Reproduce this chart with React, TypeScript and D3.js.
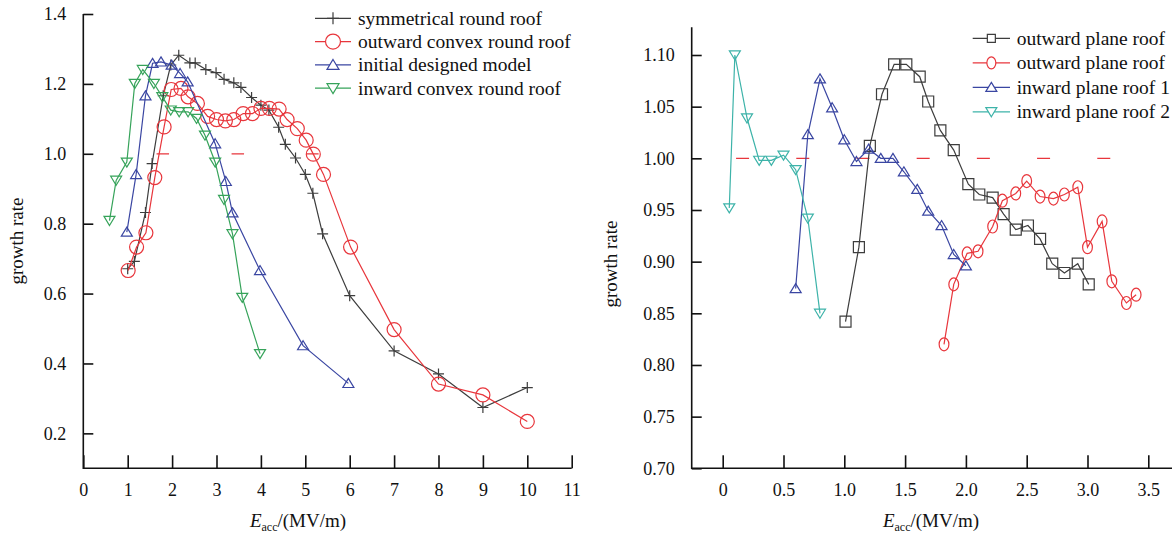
import { useEffect, useRef } from 'react';
import * as d3 from 'd3';

// left panel: round roofs
const symX = [1.0, 1.15, 1.4, 1.55, 1.8, 1.97, 2.15, 2.4, 2.52, 2.76, 2.99, 3.17, 3.39, 3.55, 3.79, 4.0, 4.18, 4.4, 4.55, 4.78, 5.0, 5.17, 5.39, 6, 7, 8, 9, 10];
const symY = [0.671, 0.692, 0.832, 0.972, 1.166, 1.254, 1.282, 1.26, 1.26, 1.241, 1.232, 1.213, 1.203, 1.19, 1.161, 1.139, 1.125, 1.076, 1.027, 0.988, 0.941, 0.887, 0.771, 0.594, 0.436, 0.37, 0.274, 0.331];
const outConvX = [1.01, 1.2, 1.41, 1.61, 1.82, 1.98, 2.2, 2.36, 2.57, 2.8, 3.0, 3.2, 3.39, 3.6, 3.81, 4.0, 4.19, 4.41, 4.59, 4.82, 5.02, 5.18, 5.41, 6.02, 7, 8, 9, 10];
const outConvY = [0.666, 0.733, 0.774, 0.932, 1.077, 1.184, 1.187, 1.163, 1.144, 1.107, 1.098, 1.094, 1.098, 1.115, 1.115, 1.13, 1.13, 1.128, 1.098, 1.072, 1.039, 0.999, 0.941, 0.733, 0.497, 0.341, 0.31, 0.234];
const initX = [0.98, 1.19, 1.4, 1.56, 1.75, 1.99, 2.18, 2.35, 2.97, 3.21, 3.36, 3.98, 4.95, 5.97];
const initY = [0.776, 0.941, 1.166, 1.259, 1.263, 1.254, 1.23, 1.206, 1.029, 0.921, 0.831, 0.666, 0.451, 0.343];
const inConvX = [0.59, 0.74, 0.98, 1.16, 1.34, 1.59, 1.78, 1.97, 2.16, 2.36, 2.55, 2.74, 2.97, 3.17, 3.36, 3.58, 3.98];
const inConvY = [0.809, 0.924, 0.976, 1.201, 1.241, 1.201, 1.163, 1.125, 1.12, 1.12, 1.101, 1.053, 0.976, 0.869, 0.771, 0.589, 0.428];
const leftRef = [1.65, 5.3];
const leftXTicks = [0, 1, 2, 3, 4, 5, 6, 7, 8, 9, 10, 11];
const leftYTicks = [0.2, 0.4, 0.6, 0.8, 1.0, 1.2, 1.4];
const leftNames = ['symmetrical round roof', 'outward convex round roof', 'initial designed model', 'inward convex round roof'];

// right panel: plane roofs
const outPlane1X = [1.01, 1.12, 1.21, 1.31, 1.41, 1.51, 1.62, 1.69, 1.79, 1.9, 2.02, 2.11, 2.22, 2.31, 2.41, 2.51, 2.61, 2.71, 2.81, 2.92, 3.01];
const outPlane1Y = [0.842, 0.914, 1.012, 1.062, 1.091, 1.091, 1.079, 1.055, 1.027, 1.008, 0.975, 0.965, 0.962, 0.946, 0.931, 0.935, 0.922, 0.898, 0.889, 0.898, 0.878];
const outPlane2X = [1.82, 1.9, 2.01, 2.1, 2.22, 2.3, 2.41, 2.5, 2.61, 2.72, 2.81, 2.92, 3.0, 3.12, 3.2, 3.32, 3.4];
const outPlane2Y = [0.82, 0.878, 0.908, 0.91, 0.934, 0.959, 0.966, 0.978, 0.963, 0.961, 0.965, 0.972, 0.914, 0.939, 0.881, 0.86, 0.868];
const inPlane1X = [0.6, 0.7, 0.8, 0.9, 1.0, 1.1, 1.2, 1.3, 1.4, 1.49, 1.6, 1.69, 1.8, 1.9, 2.0];
const inPlane1Y = [0.874, 1.023, 1.077, 1.049, 1.018, 0.997, 1.009, 1.0, 1.0, 0.987, 0.97, 0.949, 0.935, 0.907, 0.896];
const inPlane2X = [0.054, 0.1, 0.2, 0.3, 0.4, 0.5, 0.6, 0.7, 0.8];
const inPlane2Y = [0.952, 1.1, 1.039, 0.998, 0.998, 1.003, 0.989, 0.942, 0.85];
const rightRef = [0.11, 3.19];
const rightXTicks = [0, 0.5, 1.0, 1.5, 2.0, 2.5, 3.0, 3.5];
const rightYTicks = [0.7, 0.75, 0.8, 0.85, 0.9, 0.95, 1.0, 1.05, 1.1];
// the first two labels are cut at the image edge in the source
const rightNames = ['outward plane roof', 'outward plane roof', 'inward plane roof 1', 'inward plane roof 2'];

const FONT = '"Liberation Serif", "Times New Roman", serif';
const BLACK = '#3d3d3d';
const RED = '#e8363c';
const BLUE = '#3a46a2';
const GREEN = '#36a35a';
const TEAL = '#3db3a9';

type Marker = 'plus' | 'circle' | 'ellipse' | 'up' | 'down' | 'square';

function markerPath(m: Marker, s: number) {
  const h = s / 2;
  switch (m) {
    case 'plus':
      return `M${-h},0H${h}M0,${-h}V${h}`;
    case 'up':
      return `M0,${-h * 0.9}L${h},${h * 0.75}L${-h},${h * 0.75}Z`;
    case 'down':
      return `M0,${h * 0.9}L${h},${-h * 0.75}L${-h},${-h * 0.75}Z`;
    case 'square':
      return `M${-h},${-h}H${h}V${h}H${-h}Z`;
    case 'circle':
      return `M${h},0A${h},${h} 0 1 1 ${-h},0A${h},${h} 0 1 1 ${h},0Z`;
    case 'ellipse': {
      const rx = h * 0.75;
      return `M${rx},0A${rx},${h} 0 1 1 ${-rx},0A${rx},${h} 0 1 1 ${rx},0Z`;
    }
  }
}

export default function App() {
  const svgRef = useRef<SVGSVGElement>(null);

  useEffect(() => {
    const svg = d3.select(svgRef.current);
    svg.selectAll('*').remove();

    const drawPanel = (opt: any) => {
      const { x, y, xAxisY, yAxisX, xEnd, yTop, xTicks, yTicks, xFmt, yFmt, series, ref, refDash, legend } = opt;
      const g = svg.append('g');

      // reference y = 1 dashes
      g.append('line')
        .attr('x1', x(ref[0])).attr('x2', x(ref[1]))
        .attr('y1', y(1)).attr('y2', y(1))
        .attr('stroke', RED).attr('stroke-width', 1.2)
        .attr('stroke-dasharray', refDash);

      const line = d3.line<[number, number]>().x(d => x(d[0])).y(d => y(d[1]));
      series.forEach((s: any) => {
        const pts: [number, number][] = s.xs.map((v: number, i: number) => [v, s.ys[i]]);
        g.append('path').attr('d', line(pts)).attr('fill', 'none')
          .attr('stroke', s.color).attr('stroke-width', 1.2);
        g.selectAll(null).data(pts).join('path')
          .attr('transform', d => `translate(${x(d[0])},${y(d[1])})`)
          .attr('d', markerPath(s.marker, s.size))
          .attr('fill', 'none').attr('stroke', s.color).attr('stroke-width', 1.2);
      });

      // axes
      const xa = g.append('g').attr('transform', `translate(0,${xAxisY})`)
        .call(d3.axisBottom(x).tickValues(xTicks).tickFormat(xFmt).tickSizeInner(-13).tickSizeOuter(0).tickPadding(15));
      const ya = g.append('g').attr('transform', `translate(${yAxisX},0)`)
        .call(d3.axisLeft(y).tickValues(yTicks).tickFormat(yFmt).tickSizeInner(-10).tickSizeOuter(0).tickPadding(17));
      [xa, ya].forEach(a => {
        a.select('.domain').remove();
        a.attr('font-family', FONT).attr('font-size', 18);
        a.selectAll('line').attr('stroke', '#111').attr('stroke-width', 1.6);
        a.selectAll('text').attr('fill', '#111');
      });
      g.append('path')
        .attr('d', `M${yAxisX},${yTop}V${xAxisY}H${xEnd}`)
        .attr('fill', 'none').attr('stroke', '#111').attr('stroke-width', 1.6);

      // axis titles
      const xt = g.append('text').attr('x', opt.xTitleX).attr('y', 527)
        .attr('text-anchor', 'middle').attr('font-family', FONT).attr('font-size', 19).attr('fill', '#111');
      xt.append('tspan').attr('font-style', 'italic').text('E');
      xt.append('tspan').attr('font-size', 12).attr('dy', 4).text('acc');
      xt.append('tspan').attr('dy', -4).text('/(MV/m)');

      g.append('text')
        .attr('transform', `translate(${opt.yTitleX},${opt.yTitleY}) rotate(-90)`)
        .attr('text-anchor', 'middle').attr('font-family', FONT).attr('font-size', 19).attr('fill', '#111')
        .text('growth rate');

      // legend
      const lg = g.append('g');
      series.forEach((s: any, i: number) => {
        const ry = legend.y0 + i * legend.dy;
        lg.append('line').attr('x1', legend.x1).attr('x2', legend.x2).attr('y1', ry).attr('y2', ry)
          .attr('stroke', s.color).attr('stroke-width', 1.2);
        lg.append('path').attr('transform', `translate(${(legend.x1 + legend.x2) / 2},${ry})`)
          .attr('d', markerPath(s.marker, s.legendSize)).attr('fill', '#fff')
          .attr('stroke', s.color).attr('stroke-width', 1.2);
        lg.append('text').attr('x', legend.tx).attr('y', ry).attr('dy', '0.33em')
          .attr('font-family', FONT).attr('font-size', 19.5).attr('fill', '#111')
          .text(legend.names[i]);
      });
    };

    drawPanel({
      x: d3.scaleLinear().domain([0, 11]).range([83.3, 571.7]),
      y: d3.scaleLinear().domain([0.1, 1.4]).range([468.3, 14]),
      xAxisY: 468.3, yAxisX: 83.3, xEnd: 571.7, yTop: 14,
      xTicks: leftXTicks, yTicks: leftYTicks,
      xFmt: (d: number) => String(d), yFmt: d3.format('.1f'),
      ref: leftRef, refDash: '12.5 62.5',
      xTitleX: 298, yTitleX: 23, yTitleY: 241,
      series: [
        { xs: symX, ys: symY, color: BLACK, marker: 'plus', size: 11, legendSize: 12 },
        { xs: outConvX, ys: outConvY, color: RED, marker: 'circle', size: 14, legendSize: 15 },
        { xs: initX, ys: initY, color: BLUE, marker: 'up', size: 11, legendSize: 12 },
        { xs: inConvX, ys: inConvY, color: GREEN, marker: 'down', size: 11, legendSize: 12 },
      ],
      legend: { x1: 315, x2: 351, tx: 358, y0: 18.3, dy: 23.3, names: leftNames },
    });

    drawPanel({
      x: d3.scaleLinear().domain([0, 3.5]).range([722.7, 1148.3]),
      y: d3.scaleLinear().domain([0.7, 1.1]).range([468.3, 55]),
      xAxisY: 468.3, yAxisX: 691.7, xEnd: 1172, yTop: 27.3,
      xTicks: rightXTicks, yTicks: rightYTicks,
      xFmt: (d: number) => (d === 0 ? '0' : d.toFixed(1)), yFmt: d3.format('.2f'),
      ref: rightRef, refDash: '13 47.2',
      xTitleX: 931, yTitleX: 617, yTitleY: 264,
      series: [
        { xs: outPlane1X, ys: outPlane1Y, color: BLACK, marker: 'square', size: 11, legendSize: 8 },
        { xs: outPlane2X, ys: outPlane2Y, color: RED, marker: 'ellipse', size: 13, legendSize: 12 },
        { xs: inPlane1X, ys: inPlane1Y, color: BLUE, marker: 'up', size: 11, legendSize: 11 },
        { xs: inPlane2X, ys: inPlane2Y, color: TEAL, marker: 'down', size: 11, legendSize: 11 },
      ],
      legend: { x1: 972.7, x2: 1010, tx: 1016.7, y0: 38.3, dy: 24.5, names: rightNames },
    });
  }, []);

  return (
    <svg
      ref={svgRef}
      width={1172}
      height={539}
      style={{ position: 'absolute', left: 0, top: 0, background: '#fff' }}
    />
  );
}
